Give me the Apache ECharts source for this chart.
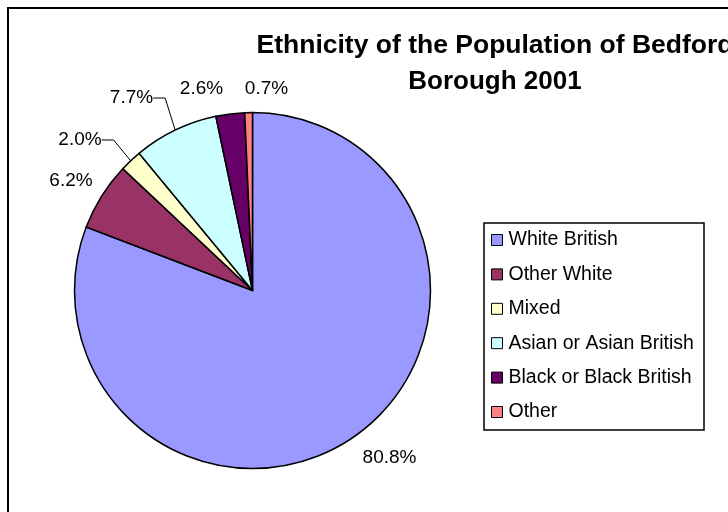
<!DOCTYPE html>
<html>
<head>
<meta charset="utf-8">
<style>
  html, body { margin: 0; padding: 0; background: #ffffff; }
  #chart { width: 728px; height: 512px; }
</style>
<script src="https://cdn.jsdelivr.net/npm/echarts@6/dist/echarts.min.js"></script>
</head>
<body>
<div id="chart"></div>
<script>
// Ethnic groups, Bedford Borough census 2001 (percent of population)
const groups = ['White British', 'Other White', 'Mixed', 'Asian or Asian British', 'Black or Black British', 'Other'];
const shares = [80.8, 6.2, 2.0, 7.7, 2.6, 0.7];
const groupColors = ['#9999FF', '#993366', '#FFFFCC', '#CCFFFF', '#660066', '#FF8080'];

// Title lines
const titleLines = ['Ethnicity of the Population of Bedford', 'Borough 2001'];

// Where each percentage label sits, and which labels get a leader line
const labelSpots = [[389.5, 458], [71, 181], [80, 140], [131.5, 98], [201.5, 89], [266.5, 89]];
const withLeader = [false, false, true, true, false, false];

const FONT = '"Liberation Sans", Arial, sans-serif';

const chart = echarts.init(document.getElementById('chart'), null, { renderer: 'canvas' });

chart.setOption({
  backgroundColor: '#ffffff',
  animation: false,
  graphic: [
    {
      type: 'rect',
      shape: { x: 8, y: 8, width: 760, height: 560 },
      style: { fill: 'none', stroke: '#000000', lineWidth: 2 },
      z: 0
    },
    {
      type: 'text',
      x: 495,
      y: 46,
      style: {
        text: titleLines[0],
        font: 'bold 26.5px ' + FONT,
        fill: '#000000',
        textAlign: 'center',
        textVerticalAlign: 'middle'
      },
      z: 5
    },
    {
      type: 'text',
      x: 495,
      y: 82,
      style: {
        text: titleLines[1],
        font: 'bold 26px ' + FONT,
        fill: '#000000',
        textAlign: 'center',
        textVerticalAlign: 'middle'
      },
      z: 5
    },
    {
      type: 'rect',
      shape: { x: 484, y: 223, width: 220, height: 207 },
      style: { fill: '#ffffff', stroke: '#000000', lineWidth: 1.5 },
      z: 1
    }
  ],
  legend: {
    orient: 'vertical',
    left: 491,
    top: 230,
    padding: 0,
    icon: 'rect',
    itemWidth: 11,
    itemHeight: 11,
    itemGap: 14.4,
    selectedMode: false,
    itemStyle: { borderColor: '#000000', borderWidth: 1 },
    textStyle: { fontFamily: FONT, fontSize: 19.5, color: '#000000', lineHeight: 20, padding: [0, 0, 0, 1] },
    data: groups,
    z: 5
  },
  series: [{
    type: 'pie',
    center: [252.5, 290.5],
    radius: 178,
    startAngle: 90,
    clockwise: true,
    avoidLabelOverlap: false,
    itemStyle: { borderColor: '#000000', borderWidth: 1.5 },
    emphasis: { disabled: true },
    label: {
      show: true,
      position: 'outside',
      formatter: (p) => p.value.toFixed(1) + '%',
      fontFamily: FONT,
      fontSize: 19,
      color: '#000000'
    },
    labelLine: {
      show: false,
      length: 15,
      length2: 12,
      smooth: false,
      lineStyle: { color: '#000000', width: 1 }
    },
    labelLayout: (params) => {
      const spot = labelSpots[params.dataIndex];
      return { x: spot[0], y: spot[1], align: 'center', verticalAlign: 'middle' };
    },
    data: groups.map((name, i) => ({
      name: name,
      value: shares[i],
      itemStyle: { color: groupColors[i] },
      labelLine: { show: withLeader[i] }
    }))
  }]
});
</script>
</body>
</html>
